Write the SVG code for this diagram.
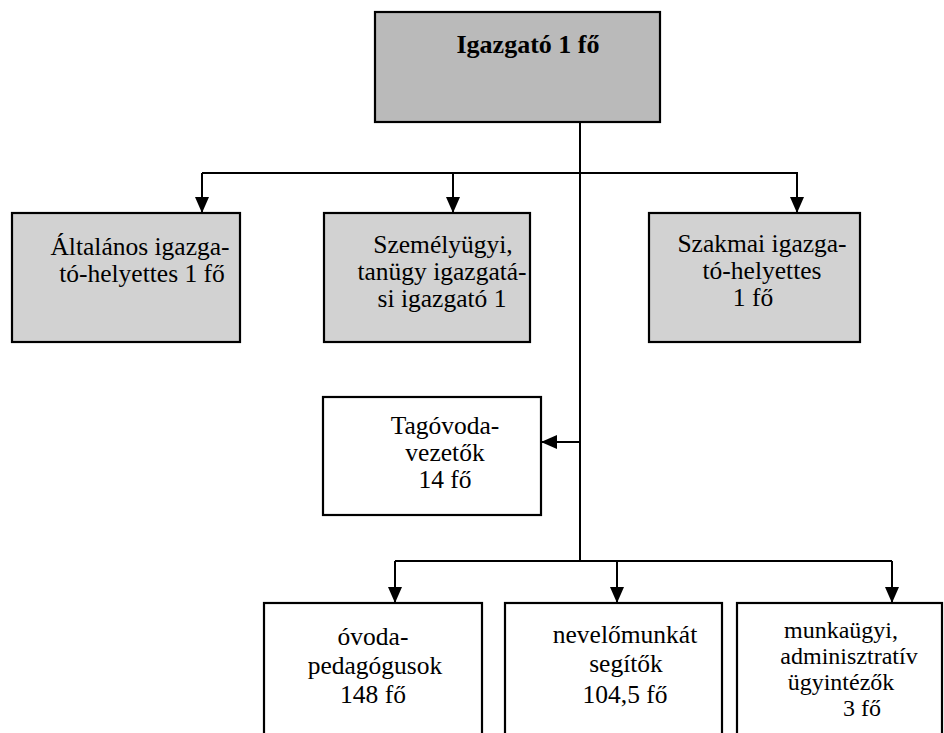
<svg xmlns="http://www.w3.org/2000/svg" width="944" height="733" viewBox="0 0 944 733">
<style>
.box{stroke:#000;stroke-width:2.2}
.g1{fill:#bababa}
.g2{fill:#d2d2d2}
.w{fill:#fff}
.t{font-family:"Liberation Serif","Times New Roman",serif;font-size:25.5px;fill:#000;text-anchor:middle}
.b{font-weight:bold;font-size:26px}
.s{font-size:24px}
.c{stroke:#000;stroke-width:2;fill:none}
</style>
<defs>
<marker id="ah" viewBox="0 0 16 14" refX="16" refY="7" markerWidth="16" markerHeight="14" orient="auto" markerUnits="userSpaceOnUse">
<path d="M0,0 L16,7 L0,14 z" fill="#000"/>
</marker>
</defs>
<rect width="944" height="733" fill="#fff"/>
<g id="connectors">
<path class="c" d="M580,122 V561"/>
<path class="c" d="M202,173 H798"/>
<path class="c" d="M202,173 V213" marker-end="url(#ah)"/>
<path class="c" d="M453,173 V213" marker-end="url(#ah)"/>
<path class="c" d="M797,173 V213" marker-end="url(#ah)"/>
<path class="c" d="M580,442 H541" marker-end="url(#ah)"/>
<path class="c" d="M395,561 H892"/>
<path class="c" d="M395,561 V603" marker-end="url(#ah)"/>
<path class="c" d="M617,561 V603" marker-end="url(#ah)"/>
<path class="c" d="M892,561 V603" marker-end="url(#ah)"/>
</g>
<g id="igazgato">
<rect class="box g1" x="375" y="12" width="285" height="110"/>
<text class="t b" x="528" y="53">Igazgató 1 fő</text>
</g>
<g id="altalanos">
<rect class="box g2" x="12" y="213" width="228" height="129"/>
<text class="t" x="140" y="255">Általános igazga-</text>
<text class="t" x="142" y="282">tó-helyettes 1 fő</text>
</g>
<g id="szemelyugyi">
<rect class="box g2" x="324" y="213" width="206" height="129"/>
<text class="t" x="443" y="253">Személyügyi,</text>
<text class="t" x="442" y="280">tanügy igazgatá-</text>
<text class="t" x="442" y="307">si igazgató 1</text>
</g>
<g id="szakmai">
<rect class="box g2" x="649" y="213" width="211" height="129"/>
<text class="t" x="762" y="252">Szakmai igazga-</text>
<text class="t" x="762" y="279">tó-helyettes</text>
<text class="t" x="753" y="306">1 fő</text>
</g>
<g id="tagovoda">
<rect class="box w" x="323" y="397" width="218" height="118"/>
<text class="t" x="445" y="434">Tagóvoda-</text>
<text class="t" x="445" y="461">vezetők</text>
<text class="t" x="445" y="488">14 fő</text>
</g>
<g id="ovodapedagogusok">
<rect class="box w" x="264" y="603" width="218" height="140"/>
<text class="t" x="373" y="645">óvoda-</text>
<text class="t" x="375" y="674">pedagógusok</text>
<text class="t" x="373" y="703">148 fő</text>
</g>
<g id="nevelomunkat">
<rect class="box w" x="505" y="603" width="217" height="140"/>
<text class="t" x="625" y="643">nevelőmunkát</text>
<text class="t" x="626" y="672">segítők</text>
<text class="t" x="625" y="703">104,5 fő</text>
</g>
<g id="munkaugyi">
<rect class="box w" x="737" y="603" width="205" height="140"/>
<text class="t s" x="841" y="638">munkaügyi,</text>
<text class="t s" x="849" y="664">adminisztratív</text>
<text class="t s" x="841" y="690">ügyintézők</text>
<text class="t s" x="862" y="716">3 fő</text>
</g>
</svg>
